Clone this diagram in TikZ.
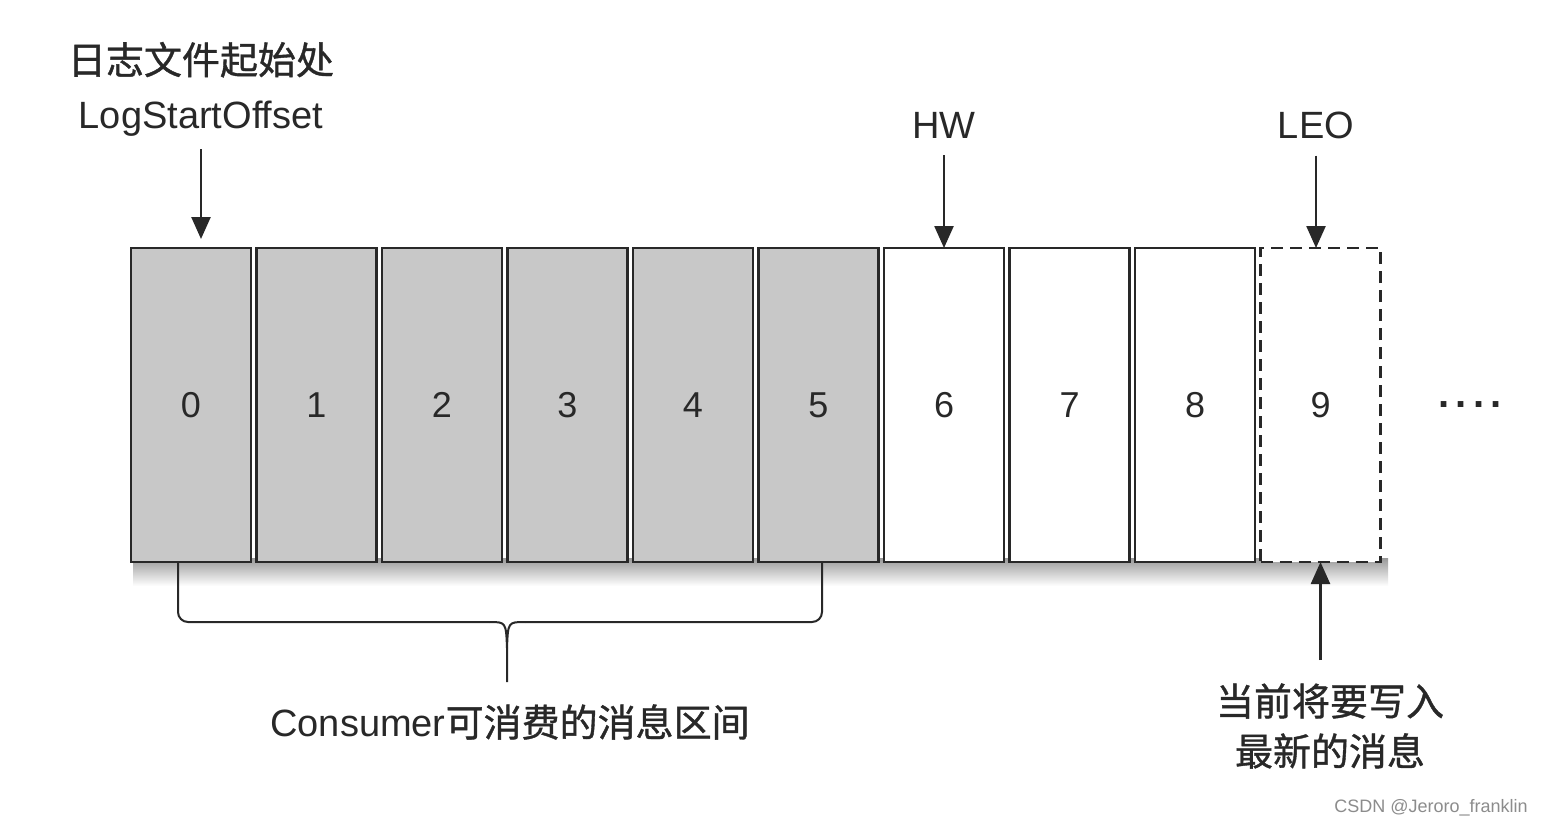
\documentclass[tikz,border=0pt]{standalone}
\usepackage{fontspec}
\setmainfont{Liberation Sans}
\newfontfamily\cjk{Noto Sans CJK SC}[FakeBold=1]
\usepackage{tikz}
\usetikzlibrary{arrows.meta, positioning}
\definecolor{ink}{RGB}{40,40,40}
\definecolor{cellgray}{RGB}{200,200,200}

\begin{document}
\begin{tikzpicture}[x=1pt, y=-1pt, >={Triangle[length=22pt,width=19pt]}, color=ink, line width=2.5pt,
  cell/.style={rectangle, draw=ink, line width=2.5pt, minimum width=120pt, minimum height=314pt, inner sep=0pt, outer sep=0pt, font=\fontsize{36}{40}\selectfont},
  oldmsg/.style={cell, fill=cellgray},
  newmsg/.style={cell, fill=white},
  nextmsg/.style={cell, fill=white, dash pattern=on 12pt off 7pt},
  tag/.style={inner sep=0pt, align=center, font=\fontsize{38}{44}\selectfont}]
  \fill[white] (0,0) rectangle (1545,828);
  % shadow under the log
  \shade[top color=black!40, bottom color=white, draw=none] (133,558) rectangle (1388,586);

  \node[oldmsg]  (b0)                   at (191,405) {0};
  \node[oldmsg]  (b1) [right=5.5pt of b0] {1};
  \node[oldmsg]  (b2) [right=5.5pt of b1] {2};
  \node[oldmsg]  (b3) [right=5.5pt of b2] {3};
  \node[oldmsg]  (b4) [right=5.5pt of b3] {4};
  \node[oldmsg]  (b5) [right=5.5pt of b4] {5};
  \node[newmsg]  (b6) [right=5.5pt of b5] {6};
  \node[newmsg]  (b7) [right=5.5pt of b6] {7};
  \node[newmsg]  (b8) [right=5.5pt of b7] {8};
  \node[nextmsg] (b9) [right=5.5pt of b8] {9};
  \node[tag, font=\fontsize{40}{44}\bfseries] (dots) [right=57pt of b9] {.\hspace{6pt}.\hspace{6pt}.\hspace{6pt}.};

  \node[tag, font=\fontsize{38}{54}\selectfont] (lso) at (201,89) {{\cjk 日志文件起始处}\\LogStartOffset};
  \node[tag] (hw)  at (944,125)  {HW};
  \node[tag] (leo) at (1316,125) {LEO};
  \node[tag, font=\fontsize{38}{50}\selectfont\cjk] (write) at (1330,726) {当前将要写入\\最新的消息};
  \node[tag] (range) at (510,722) {Consumer{\cjk 可消费的消息区间}};
  \node[tag, font=\fontsize{18}{20}\selectfont, text=black!45] (mark) at (1431,808) {CSDN @Jeroro\_franklin};

  \path[->]
        (lso.south) edge [shorten <=12pt, shorten >=9pt] (lso.south |- b0.north)
        (hw.south)  edge [shorten <=16pt] (hw.south |- b6.north)
        (leo.south) edge [shorten <=16pt] (leo.south |- b9.north)
        (b9.south |- write.north) edge [shorten <=22pt] (b9.south)
        ;

  % brace under the consumable range
  \draw[line width=2pt, rounded corners=10pt] (178,562) |- (489,622);
  \draw[line width=2pt] (489,622) .. controls (506,622) .. (507,648) -- (507,682);
  \draw[line width=2pt, rounded corners=10pt] (822,562) |- (525,622);
  \draw[line width=2pt] (525,622) .. controls (508,622) .. (507,648);
\end{tikzpicture}
\end{document}
